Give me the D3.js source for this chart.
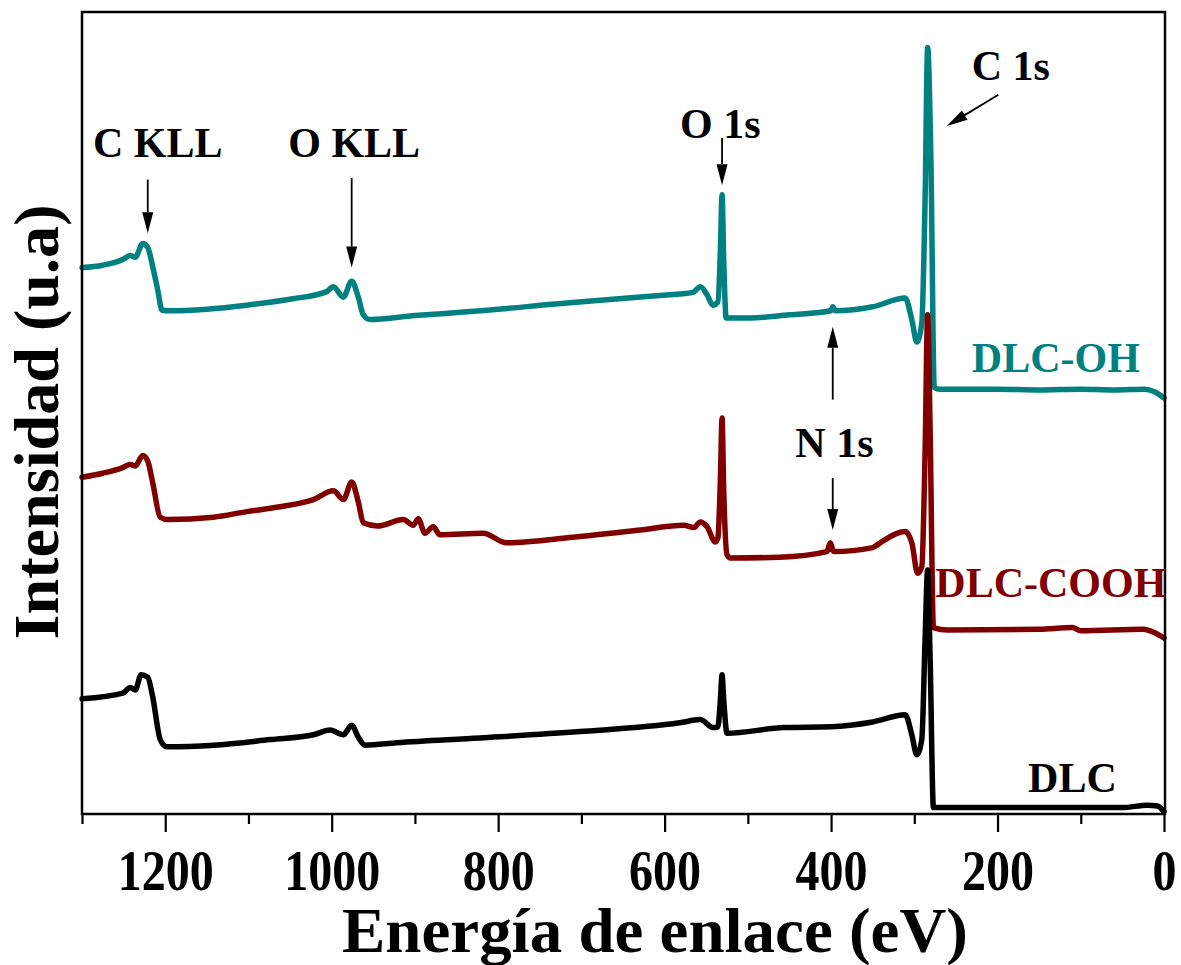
<!DOCTYPE html>
<html>
<head>
<meta charset="utf-8">
<script src="https://cdn.jsdelivr.net/npm/d3@7"></script>
<style>
  body { margin: 0; background: #fff; }
  text { font-family: "Liberation Serif", "Times New Roman", serif; font-weight: bold; }
</style>
</head>
<body>
<div id="chart"></div>
<script>
// XPS survey, binding energy (eV) vs intensity (u.a)
var ohEnergy = [1300,1275,1251,1242,1236,1227,1221,1215,1209,1204,1197,1150,1102,1047,1006,998,986,976,968,962,954,900,834,714,594,582,566,557,549,542,536,533,531,529,526,497,450,400,398,395,350,311,303,297,291,287,284,280,276,269,200,150,100,60,23,12,0];
var ohIntensity = [68.3,68.6,69.3,69.8,69.6,71.3,70.8,68.4,65.5,63.0,62.9,63.1,63.6,64.4,65.3,65.9,64.6,66.6,64.6,62.4,61.8,62.3,62.8,63.9,64.9,65.0,65.2,65.9,64.9,63.6,64.0,70.5,77.4,69.3,62.0,62.0,62.4,62.9,63.4,62.9,63.4,64.5,61.8,59.0,61.4,77.1,95.8,81.4,53.3,53.1,53.1,53.0,53.1,53.0,53.1,52.8,52.0];

var coohEnergy = [1300,1275,1251,1242,1236,1227,1221,1215,1206,1197,1142,1102,1062,1022,998,986,976,968,962,945,914,902,896,888,878,870,818,790,710,629,577,565,557,549,539,536,533,531,529,525,521,462,405,401,397,350,341,311,303,296,291,287,284,281,277,260,150,110,100,25,10,0];
var coohIntensity = [42.1,42.6,43.3,43.7,43.5,44.8,44.1,41.4,37.1,36.8,37.1,37.8,38.4,39.3,40.4,39.3,41.5,39.0,36.4,36.0,36.8,36.1,36.9,35.1,35.9,34.9,35.1,33.9,34.6,35.5,36.1,35.8,36.5,35.9,34.0,34.5,41.8,49.5,40.5,32.4,32.0,32.1,32.8,33.9,32.8,33.3,33.9,35.3,33.9,30.1,30.9,45.5,62.4,48.0,23.3,23.0,23.1,23.3,22.9,23.1,22.6,22.0];

var dlcEnergy = [1300,1251,1242,1236,1229,1221,1215,1206,1198,1142,1074,1022,1002,986,976,968,960,922,822,702,582,557,542,536,533,531,529,525,457,400,350,311,303,297,291,287,284,281,277,200,50,20,8,0];
var dlcIntensity = [14.4,15.1,15.8,15.5,17.4,17.1,14.6,9.3,8.4,8.6,9.3,9.9,10.5,9.9,11.1,9.6,8.6,8.9,9.5,10.3,11.4,11.8,10.8,10.9,14.3,17.4,14.3,10.1,10.8,10.9,11.5,12.4,9.9,7.4,9.3,22.0,30.5,19.5,0.8,0.8,0.8,1.1,1.0,0.3];

var seriesNames = ["DLC-OH", "DLC-COOH", "DLC"];
var seriesColors = ["#008080", "#800000", "#000000"];
// where each series name sits (eV, intensity of baseline)
var seriesLabelEnergy = [130, 136, 110];
var seriesLabelIntensity = [55.3, 27.1, 2.8];

var majorTicks = [1200, 1000, 800, 600, 400, 200, 0];
var minorTicks = [1300, 1100, 900, 700, 500, 300, 100];

// peak annotations: text position, and arrow start -> tip (eV, intensity)
var peakNames = ["C KLL", "O KLL", "O 1s", "C 1s", "N 1s"];
var peakTextEnergy = [1209, 973, 533, 184, 396];
var peakTextIntensity = [82.1, 82.1, 84.5, 91.8, 44.6];
var arrows = [
  [1221, 79.3, 1221, 72.6],
  [976, 79.5, 976, 68.3],
  [531, 84.5, 531, 78.6],
  [199, 89.9, 261, 86.0],
  [398, 51.8, 398, 60.9],
  [398, 42.0, 398, 35.5]
];

//--------------------------------

var W = 1181, H = 965;
var svg = d3.select("#chart").append("svg")
  .attr("width", W)
  .attr("height", H);

svg.append("rect")
  .attr("width", W)
  .attr("height", H)
  .attr("fill", "white");

var x = d3.scaleLinear().domain([1300, 0]).range([82, 1164]);
var y = d3.scaleLinear().domain([0, 100.25]).range([814, 12]);

var series = [
  { e: ohEnergy, v: ohIntensity },
  { e: coohEnergy, v: coohIntensity },
  { e: dlcEnergy, v: dlcIntensity }
];

var line = d3.line()
  .x(function (d) { return x(d[0]); })
  .y(function (d) { return y(d[1]); })
  .curve(d3.curveMonotoneX);

series.forEach(function (s, i) {
  var pts = s.e.map(function (e, j) { return [e, s.v[j]]; });
  svg.append("path")
    .datum(pts)
    .attr("d", line)
    .attr("fill", "none")
    .attr("stroke", seriesColors[i])
    .attr("stroke-width", 5.5)
    .attr("stroke-linejoin", "round")
    .attr("stroke-linecap", "round");
});

// frame
svg.append("rect")
  .attr("x", x(1300))
  .attr("y", y(100.25))
  .attr("width", x(0) - x(1300) + 1)
  .attr("height", y(0) - y(100.25))
  .attr("fill", "none")
  .attr("stroke", "black")
  .attr("stroke-width", 2.5);

// bottom axis
var gMajor = svg.append("g")
  .attr("transform", "translate(0," + y(0) + ")")
  .call(d3.axisBottom(x).tickValues(majorTicks).tickSize(18).tickFormat(d3.format("d")));
var gMinor = svg.append("g")
  .attr("transform", "translate(0," + y(0) + ")")
  .call(d3.axisBottom(x).tickValues(minorTicks).tickSize(10).tickFormat(""));

[gMajor, gMinor].forEach(function (g) {
  g.select(".domain").remove();
  g.selectAll(".tick line").attr("stroke", "black").attr("stroke-width", 2.2);
});

gMajor.selectAll(".tick text")
  .attr("y", 76)
  .attr("dy", null)
  .attr("fill", "black")
  .attr("font-size", 58)
  .attr("font-family", "Liberation Serif, Times New Roman, serif")
  .attr("font-weight", "bold")
  .attr("textLength", function (d) { return String(d).length * 24; })
  .attr("lengthAdjust", "spacingAndGlyphs");

// axis titles
svg.append("text")
  .attr("x", 655)
  .attr("y", 952)
  .attr("text-anchor", "middle")
  .attr("font-size", 64)
  .attr("textLength", 626)
  .attr("lengthAdjust", "spacingAndGlyphs")
  .text("Energía de enlace (eV)");

svg.append("text")
  .attr("transform", "translate(58,422) rotate(-90)")
  .attr("text-anchor", "middle")
  .attr("font-size", 64)
  .attr("textLength", 435)
  .attr("lengthAdjust", "spacingAndGlyphs")
  .text("Intensidad (u.a)");

// series names
seriesNames.forEach(function (n, i) {
  svg.append("text")
    .attr("x", x(seriesLabelEnergy[i]))
    .attr("y", y(seriesLabelIntensity[i]))
    .attr("text-anchor", "middle")
    .attr("font-size", 42)
    .attr("fill", seriesColors[i])
    .text(n);
});

// peak names
peakNames.forEach(function (n, i) {
  svg.append("text")
    .attr("x", x(peakTextEnergy[i]))
    .attr("y", y(peakTextIntensity[i]))
    .attr("text-anchor", "middle")
    .attr("font-size", 42)
    .attr("fill", "black")
    .text(n);
});

// arrows with filled heads
arrows.forEach(function (a) {
  var x1 = x(a[0]), y1 = y(a[1]), x2 = x(a[2]), y2 = y(a[3]);
  var len = Math.sqrt((x2 - x1) * (x2 - x1) + (y2 - y1) * (y2 - y1));
  var ux = (x2 - x1) / len, uy = (y2 - y1) / len;
  var hl = 21, hw = 5.5;
  var bx = x2 - ux * hl, by = y2 - uy * hl;
  svg.append("line")
    .attr("x1", x1).attr("y1", y1)
    .attr("x2", bx).attr("y2", by)
    .attr("stroke", "black")
    .attr("stroke-width", 1.8);
  svg.append("path")
    .attr("d", "M" + x2 + "," + y2 +
      "L" + (bx - uy * hw) + "," + (by + ux * hw) +
      "L" + (bx + uy * hw) + "," + (by - ux * hw) + "Z")
    .attr("fill", "black");
});
</script>
</body>
</html>
